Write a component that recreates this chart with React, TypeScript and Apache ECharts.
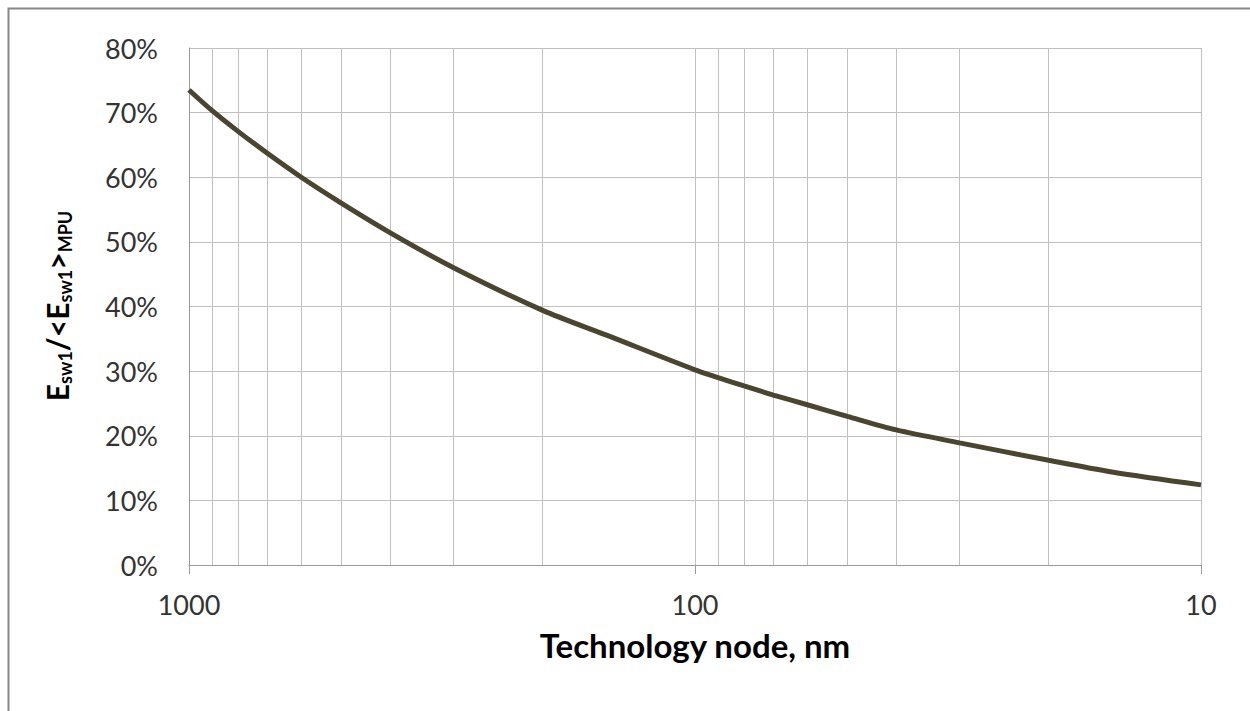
import React, { useEffect, useRef } from "react";
import * as echarts from "echarts";

const nodes = [1000, 900, 800, 700, 600, 500, 400, 300, 200, 150, 100, 90, 80, 70, 60, 50, 40, 30, 20, 15, 10];
const ratio = [73.5, 70.3, 67.1, 63.7, 60.0, 56.0, 51.4, 46.0, 39.4, 35.6, 30.2, 29.0, 27.7, 26.3, 24.8, 23.0, 20.9, 18.9, 16.2, 14.4, 12.4];
const minorGrid = [900, 800, 700, 600, 500, 400, 300, 200, 90, 80, 70, 60, 50, 40, 30, 20];
const yTicks = { min: 0, max: 80, interval: 10 };

const FONT = "Lato";

export default function App() {
  const ref = useRef<HTMLDivElement>(null);
  useEffect(() => {
    if (!ref.current) return;
    const chart = echarts.init(ref.current, null, { renderer: "svg" });
    chart.setOption({
      animation: false,
      backgroundColor: "#ffffff",
      grid: { left: 189, right: 49, top: 48, bottom: 146, containLabel: false },
      xAxis: {
        type: "log",
        logBase: 10,
        min: 10,
        max: 1000,
        inverse: true,
        name: "Technology node, nm",
        nameLocation: "middle",
        nameGap: 63,
        nameTextStyle: { fontFamily: FONT, fontWeight: "bold", fontSize: 33, color: "#000" },
        axisLine: { show: true, lineStyle: { color: "#9a9a9a", width: 1 } },
        axisTick: { show: true, length: 9, lineStyle: { color: "#9a9a9a" } },
        axisLabel: {
          fontFamily: FONT,
          fontSize: 27,
          color: "#333",
          margin: 26,
          formatter: (v: number) => String(Math.round(v)),
        },
        splitLine: { show: true, lineStyle: { color: "#c0c0c0", width: 1 } },
        minorTick: { show: false },
      },
      yAxis: {
        type: "value",
        min: yTicks.min,
        max: yTicks.max,
        interval: yTicks.interval,
        axisLine: { show: true, lineStyle: { color: "#9a9a9a", width: 1 } },
        axisTick: { show: false },
        axisLabel: { fontFamily: FONT, fontSize: 27, color: "#333", margin: 31, formatter: "{value}%" },
        splitLine: { show: true, lineStyle: { color: "#c0c0c0", width: 1 } },
      },
      graphic: [
        {
          type: "rect",
          shape: { x: 8.5, y: 8.5, width: 1400, height: 900 },
          style: { fill: "none", stroke: "#878787", lineWidth: 2 },
          silent: true,
        },
        {
          type: "text",
          x: 57,
          y: 306,
          rotation: Math.PI / 2,
          style: {
            text: "{b|E}{s|sw1}{b|/<E}{s|sw1}{b|>}{s|MPU}",
            align: "center",
            verticalAlign: "middle",
            rich: {
              b: { fontFamily: FONT, fontWeight: "bold", fontSize: 30, fill: "#000", lineHeight: 34 },
              s: { fontFamily: FONT, fontWeight: "bold", fontSize: 18, fill: "#000", lineHeight: 18, verticalAlign: "bottom", padding: [10, 0, 0, 0] },
            },
          },
        },
      ],
      series: [
        {
          type: "line",
          data: nodes.map((n, i) => [n, ratio[i]]),
          showSymbol: false,
          symbol: "none",
          smooth: 0.3,
          z: 3,
          lineStyle: { color: "#4b4530", width: 5 },
          markLine: {
            silent: true,
            symbol: "none",
            z: 1,
            label: { show: false },
            lineStyle: { color: "#c0c0c0", width: 1, type: "solid" },
            data: minorGrid.map((v) => ({ xAxis: v })),
          },
        },
      ],
    });
    return () => chart.dispose();
  }, []);
  return <div ref={ref} style={{ position: "absolute", left: 0, top: 0, width: 1250, height: 711 }} />;
}
